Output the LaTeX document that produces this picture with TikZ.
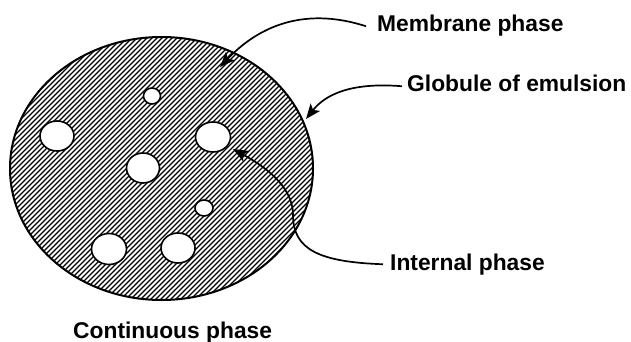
\documentclass[tikz,border=0pt]{standalone}
\usepackage{fontspec}
\setmainfont{Liberation Sans}
\usetikzlibrary{arrows.meta}
\begin{document}
\begin{tikzpicture}[x=1pt,y=-1pt,
  hatch/.style={line width=1.1pt},
  rim/.style={line width=2pt},
  hole/.style={draw,fill=white,line width=1.6pt},
  lbl/.style={anchor=base west,inner xsep=0pt,inner ysep=0pt,
    font=\fontsize{22.8}{27}\selectfont\bfseries,text height=16pt,text depth=4.5pt},
  conn/.style={line width=1.7pt,-{Stealth[length=15pt,width=12pt,inset=3.5pt]}}]
\useasboundingbox (0,0) rectangle (631,342);
% hatched globule
\begin{scope}
  \clip (161.5,168.5) ellipse [x radius=151.5, y radius=131.5];
  \foreach \i in {-270,-265,...,320} \draw[hatch] (\i,305) -- ++(300,-300);
\end{scope}
\draw[rim] (161.5,168.5) ellipse [x radius=151.5, y radius=131.5];
% internal droplets
\draw[hole] (152,96) ellipse [x radius=8.5, y radius=8];
\draw[hole] (57,136) ellipse [x radius=17, y radius=15];
\draw[hole] (213,137) ellipse [x radius=17.5, y radius=15];
\draw[hole] (143,168) ellipse [x radius=16.5, y radius=15];
\draw[hole] (204,208) ellipse [x radius=9, y radius=8];
\draw[hole] (109,249) ellipse [x radius=17.5, y radius=15.5];
\draw[hole] (178,248) ellipse [x radius=17, y radius=15];
% labels
\node[lbl] (mem) at (377,32) {Membrane phase};
\node[lbl] (glob) at (407,92) {Globule of emulsion};
\node[lbl] (int) at (390,270) {Internal phase};
\node[lbl] (cont) at (73,338) {Continuous phase};
% arrow tips
\coordinate (memtip) at (220,67);
\coordinate (globtip) at (306,119);
\coordinate (inttip) at (233,149);
\coordinate (intmid) at (293,215);
% connectors
\draw[conn] ([xshift=-11pt]mem.west) .. controls (300,5) and (255,30) .. (memtip);
\draw[conn] ([xshift=-5pt]glob.west) .. controls (350,82) and (325,95) .. (globtip);
\draw[conn] ([xshift=-7pt]int.west) .. controls (320,262) and (293,250) .. (intmid)
   .. controls (293,185) and (262,165) .. (inttip);
\end{tikzpicture}
\end{document}
